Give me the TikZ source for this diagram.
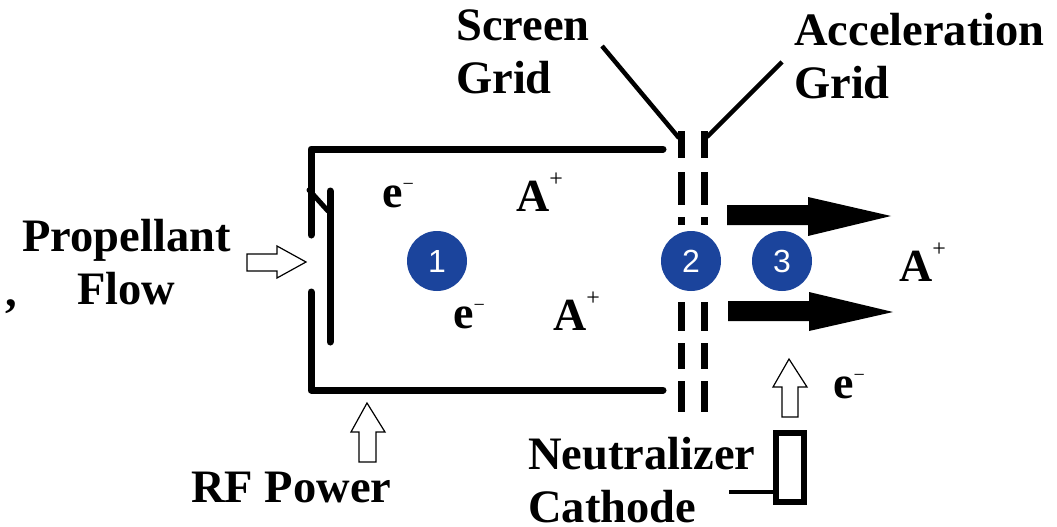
\documentclass[tikz,border=0pt]{standalone}
\usepackage{fontspec}
\setmainfont{Liberation Serif}
\newfontfamily\numfont{Liberation Sans}
\definecolor{discblue}{HTML}{1B449C}
\tikzset{
 x=1pt,y=-1pt,
 wall/.style={line width=7pt,black},
 plate/.style={line width=7pt,black,line cap=round},
 leader/.style={line width=4.5pt,black},
 gridbar/.style={line width=7pt,black},
 disc/.style={circle,fill=discblue,draw=none,minimum size=60pt,inner sep=0pt,text=white,font=\numfont\fontsize{32}{32}\selectfont},
 lab/.style={font=\bfseries\fontsize{46.5}{54}\selectfont,inner sep=0pt,text=black,anchor=base west},
 sym/.style={font=\bfseries\fontsize{46}{54}\selectfont,inner sep=0pt,text=black,anchor=base west},
 hollow/.style={draw=black,line width=1.2pt,fill=white,line join=miter},
 solidarrow/.style={fill=black,draw=none},
}
\newcommand{\chminus}{\raisebox{17pt}{\fontsize{20}{20}\selectfont\mdseries −}}
\newcommand{\chplus}{\raisebox{25pt}{\fontsize{24}{24}\selectfont\mdseries +}}
\newcommand{\leftlines}[2]{\vbox{\baselineskip=53pt \lineskiplimit=-100pt \halign{##\hfil\cr #1\cr #2\cr}}}
\newcommand{\midlines}[2]{\vbox{\baselineskip=53pt \lineskiplimit=-100pt \halign{\hfil##\hfil\cr #1\cr #2\cr}}}
\begin{document}
\begin{tikzpicture}
\useasboundingbox (0,0) rectangle (1057,527);
\fill[white] (0,0) rectangle (1057,527);
% chamber
\draw[wall,line join=round,line cap=round] (663,149) -- (311,149) -- (311,235);
\draw[wall,line join=round,line cap=round] (311,292) -- (311,390) -- (663,390);
\draw[plate] (330,191) -- (330,342);
\draw[line width=5pt,line cap=round] (309,190) -- (328,211);
% grids
\foreach \x in {681,704}{
 \foreach \a/\b in {131/158,172/205,217/225,302/331,343/369,381/412}
  \draw[gridbar] (\x,\a) -- (\x,\b);
}
\coordinate (sg) at (679,138);
\coordinate (sgl) at (602,46);
\coordinate (ag) at (707,137);
\coordinate (agl) at (782,62);
\draw[leader] (sgl) -- (sg);
\draw[leader] (agl) -- (ag);
% solid arrows
\fill[solidarrow] (727,205) -- (808,205) -- (808,197) -- (891,216) -- (808,236) -- (808,225) -- (727,225) -- cycle;
\fill[solidarrow] (728,301) -- (809,301) -- (809,292) -- (893,312) -- (809,331) -- (809,321) -- (728,321) -- cycle;
% hollow arrows
\draw[hollow] (247,254) -- (277,254) -- (277,246) -- (306,262) -- (277,278) -- (277,271) -- (247,271) -- cycle;
\draw[hollow] (359,462) -- (359,432) -- (351,432) -- (367,403) -- (385,432) -- (376,432) -- (376,462) -- cycle;
\draw[hollow] (782,417) -- (782,387) -- (773,387) -- (789,359) -- (807,387) -- (798,387) -- (798,417) -- cycle;
% cathode
\node[draw=black,line width=6pt,fill=white,minimum width=28pt,minimum height=69pt,inner sep=0pt] (cath) at (790,467.5) {};
\coordinate (cathl) at (729,492);
\draw[leader] (cathl) -- (cath.west |- cathl);
% discs
\node[disc] (d1) at (437,261) {1};
\node[disc] (d2) at (691,261) {2};
\node[disc] (d3) at (782,261) {3};
% labels
\node[lab] (prop) at (22,304) {\midlines{Propellant}{Flow}};
\node[lab] (screen) at (456,93) {\leftlines{Screen}{Grid}};
\node[lab] (accel) at (794,98) {\leftlines{Acceleration}{Grid}};
\node[lab] (rf) at (191,502) {RF Power};
\node[lab] (neut) at (528,522) {\leftlines{Neutralizer}{Cathode}};
\node[lab] (comma) at (5,306) {,};
% species
\node[sym] (e1) at (382,207) {e\chminus};
\node[sym] (e2) at (453,328) {e\chminus};
\node[sym] (e3) at (833,398) {e\chminus};
\node[sym] (a1) at (516,211) {A\chplus};
\node[sym] (a2) at (553,330) {A\chplus};
\node[sym] (a3) at (899,281) {A\chplus};
\end{tikzpicture}
\end{document}
